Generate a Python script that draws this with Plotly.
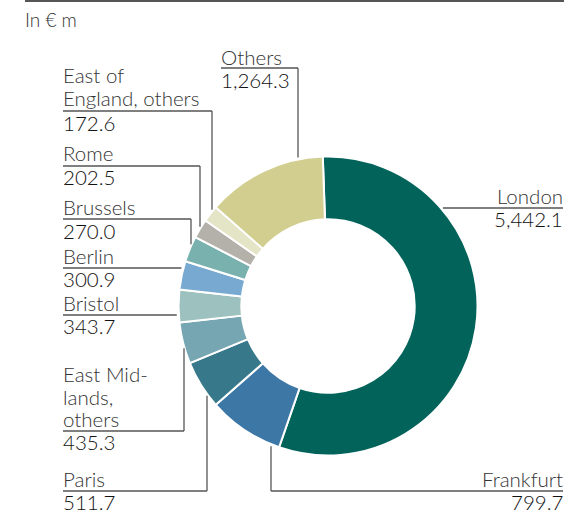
import math
import plotly.graph_objects as go

# ---------------- data ----------------
categories = ["London", "Frankfurt", "Paris", "East Midlands, others", "Bristol",
              "Berlin", "Brussels", "Rome", "East of England, others", "Others"]
values = [5442.1, 799.7, 511.7, 435.3, 343.7, 300.9, 270.0, 202.5, 172.6, 1264.3]
value_labels = ["5,442.1", "799.7", "511.7", "435.3", "343.7",
                "300.9", "270.0", "202.5", "172.6", "1,264.3"]
name_lines = [["London"], ["Frankfurt"], ["Paris"], ["East Mid-", "lands,", "others"],
              ["Bristol"], ["Berlin"], ["Brussels"], ["Rome"],
              ["East of", "England, others"], ["Others"]]
unit_label = "In € m"

colors = ["#02635B", "#3C77A6", "#37798A", "#77A6B3", "#9DC1BE",
          "#77A9D1", "#79B1AF", "#B4B0AA", "#E4E4C6", "#D2CE8F"]

# ---------------- layout geometry (pixels) ----------------
W, H = 564, 515
CX, CY, R = 328, 306, 149.5
HOLE = 0.58
FS = 20.5
TXT = "#333333"
NUM = "#111111"
LINE = "#555555"
FONT = "Lato"


def px(x):
    return x / W


def py(y):
    return 1 - y / H


def circle_y(x, side):
    d = math.sqrt(max(R * R - (x - CX) ** 2, 0))
    return CY - d if side == "top" else CY + d


def circle_x(y, side):
    d = math.sqrt(max(R * R - (y - CY) ** 2, 0))
    return CX - d if side == "left" else CX + d


# label placement: anchor x, align, baselines of name lines, baseline of value,
# underline y, underline x-range, leader type
label_pos = {
    "London": dict(x=563, align="right", base=[204], vbase=227, uy=208, ux=(None, 563), lead=("h", "right")),
    "Frankfurt": dict(x=563, align="right", base=[487], vbase=510, uy=491, ux=(271, 563), lead=("v", "bottom", 271)),
    "Paris": dict(x=63, align="left", base=[487], vbase=510, uy=491, ux=(63, 207), lead=("v", "bottom", 207)),
    "East Midlands, others": dict(x=63, align="left", base=[382, 405, 427], vbase=450, uy=431, ux=(63, 184), lead=("v", "bottom", 184)),
    "Bristol": dict(x=63, align="left", base=[311], vbase=334, uy=315, ux=(63, None), lead=("h", "left")),
    "Berlin": dict(x=63, align="left", base=[264], vbase=287, uy=268, ux=(63, None), lead=("h", "left")),
    "Brussels": dict(x=63, align="left", base=[215], vbase=239, uy=219, ux=(63, 191), lead=("v", "top", 191)),
    "Rome": dict(x=63, align="left", base=[161], vbase=185, uy=166, ux=(63, 200), lead=("v", "top", 200)),
    "East of England, others": dict(x=63, align="left", base=[83, 106], vbase=131, uy=111, ux=(63, 212), lead=("v", "top", 212)),
    "Others": dict(x=221, align="left", base=[65], vbase=88, uy=68, ux=(221, 298), lead=("v", "top", 298)),
}

fig = go.Figure()
fig.add_trace(go.Pie(
    labels=categories,
    values=values,
    sort=False,
    direction="clockwise",
    rotation=-2,
    hole=HOLE,
    marker=dict(colors=colors, line=dict(color="white", width=2)),
    textinfo="none",
    hoverinfo="label+value",
    showlegend=False,
    domain=dict(x=[px(CX - R), px(CX + R)], y=[py(CY + R), py(CY - R)]),
))

annotations = []
shapes = []


def add_text(text, x, baseline, align, size=FS, color=TXT, weight=300):
    annotations.append(dict(
        text=text, xref="paper", yref="paper",
        x=px(x + (-2 if align == "left" else 2)), y=py(baseline - 0.38 * size),
        xanchor=align, yanchor="middle", showarrow=False,
        font=dict(family=FONT, size=size, color=color, weight=weight),
    ))


def add_line(x0, y0, x1, y1, width=1.3):
    shapes.append(dict(type="line", xref="paper", yref="paper",
                       x0=px(x0), y0=py(y0), x1=px(x1), y1=py(y1),
                       line=dict(color=LINE, width=width)))


GAP = 2
for cat, vlab, lines in zip(categories, value_labels, name_lines):
    p = label_pos[cat]
    for t, b in zip(lines, p["base"]):
        add_text(t, p["x"], b, p["align"])
    add_text(vlab, p["x"], p["vbase"], p["align"], color=NUM, weight=300)
    ux0, ux1 = p["ux"]
    lead = p["lead"]
    if lead[0] == "h":
        cx = circle_x(p["uy"], lead[1])
        if lead[1] == "left":
            ux1 = cx - GAP
        else:
            ux0 = cx + GAP
        add_line(ux0, p["uy"], ux1, p["uy"])
    else:
        add_line(ux0, p["uy"], ux1, p["uy"])
        vx = lead[2]
        cy = circle_y(vx, lead[1])
        cy = cy - GAP if lead[1] == "top" else cy + GAP
        add_line(vx, p["uy"], vx, cy)

# top rule and unit label
add_line(25, 1, 564, 1, width=2)
add_text(unit_label, 25, 27, "left", size=19)

fig.update_layout(
    width=W, height=H,
    margin=dict(l=0, r=0, t=0, b=0),
    paper_bgcolor="white", plot_bgcolor="white",
    annotations=annotations, shapes=shapes,
    font=dict(family=FONT, color=TXT),
)

fig.write_html("out.html",
               config={"displayModeBar": False},
               post_script="document.body.style.margin='0';document.body.style.padding='0';")
